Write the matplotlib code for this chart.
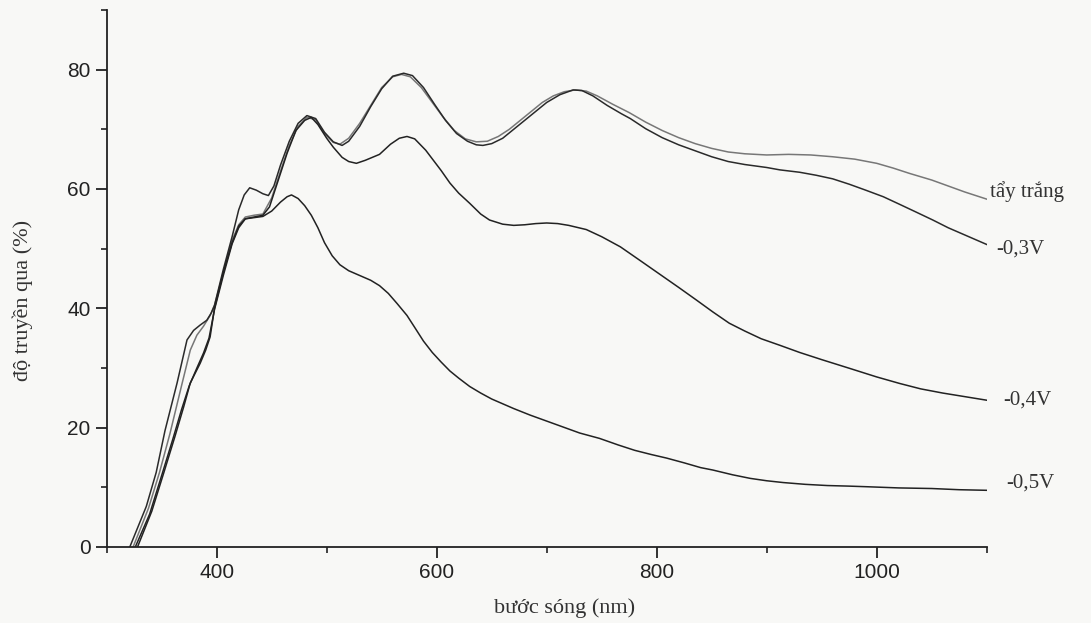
import matplotlib
matplotlib.use("Agg")
import matplotlib.pyplot as plt
from matplotlib.ticker import MultipleLocator

# Values
wl_bleached = [324, 338, 348, 357.5, 368, 376, 382, 388, 394, 398, 406, 414, 420, 426, 434, 442,
               450, 458, 466, 474, 482, 490, 498, 506, 512, 520, 530, 540, 550, 560, 568, 576,
               586, 596, 606, 616, 626, 636, 646, 656, 666, 676, 686, 696, 706, 716, 726, 736,
               746, 760, 775, 790, 805, 820, 835, 850, 865, 880, 900, 920, 940, 960, 980, 1000,
               1015, 1030, 1050, 1065, 1080, 1100]
t_bleached = [0, 6.5, 12.5, 19, 27, 33, 35.5, 37, 38.8, 40.5, 46, 51.4, 54, 55.3, 55.6, 55.8,
              58.5, 63, 67.3, 70.5, 72, 71.6, 69.3, 67.8, 67.5, 68.5, 71, 74, 77, 78.8, 79.2, 78.8,
              77, 74.5, 72, 69.8, 68.4, 67.9, 68, 68.8, 70, 71.5, 73, 74.5, 75.6, 76.3, 76.6, 76.4,
              75.6, 74.2, 72.8, 71.2, 69.8, 68.6, 67.6, 66.8, 66.2, 65.9, 65.7, 65.8, 65.7, 65.4, 65, 64.3,
              63.5, 62.6, 61.5, 60.5, 59.5, 58.3]

wl_03 = [321, 336, 345, 353, 364, 373, 379, 385, 391, 395, 398, 406, 414, 420, 425, 430, 436,
         442, 447, 452, 458, 466, 474, 482, 490, 498, 506, 514, 520, 530, 540, 550, 560, 570,
         578, 588, 598, 608, 618, 628, 636, 642, 650, 660, 670, 680, 690, 700, 712, 724, 732,
         742, 755, 768, 776, 790, 805, 820, 835, 850, 865, 880, 900, 912, 930, 945, 960, 975,
         990, 1006, 1020, 1035, 1051, 1065, 1080, 1100]
t_03 = [0, 6.8, 12.5, 19.5, 27.5, 34.7, 36.3, 37.2, 38, 39.2, 40.5, 46.5, 52, 56.5, 59, 60.2, 59.8,
        59.2, 58.9, 60.5, 64, 68, 71, 72.3, 71.8, 69.5, 67.9, 67.3, 68, 70.5, 73.8, 76.8, 78.9, 79.4,
        79, 77, 74.2, 71.5, 69.3, 68, 67.4, 67.3, 67.6, 68.5, 70, 71.5, 73, 74.5, 75.8, 76.6, 76.5,
        75.6, 74, 72.6, 71.8, 70.1, 68.6, 67.4, 66.4, 65.4, 64.6, 64.1, 63.6, 63.2, 62.8, 62.3, 61.7, 60.8,
        59.8, 58.7, 57.5, 56.2, 54.8, 53.5, 52.3, 50.7]

wl_04 = [328, 341, 352, 362, 370, 376, 385, 390, 394, 398, 406, 414, 420, 426, 434, 442, 448,
         456, 464, 472, 480, 486, 492, 500, 506, 514, 520, 527, 535, 548, 558, 566, 573, 580,
         590, 597, 604, 612, 620, 630, 640, 648, 660, 670, 680, 690, 700, 710, 720, 736, 750,
         767, 785, 806, 820, 836, 851, 866, 880, 895, 912, 930, 950, 976, 1000, 1021, 1040,
         1060, 1080, 1100]
t_04 = [0, 6, 12.5, 18.5, 23.5, 27.5, 30.8, 33, 35.2, 40, 46, 51, 53.8, 55, 55.3, 55.6, 57,
        61.5, 66, 69.8, 71.5, 72, 70.8, 68.5, 67, 65.3, 64.6, 64.3, 64.8, 65.8, 67.5, 68.5, 68.8, 68.4,
        66.5, 64.8, 63.1, 61, 59.3, 57.6, 55.8, 54.8, 54.1, 53.9, 54, 54.2, 54.3, 54.2, 53.9, 53.2, 52,
        50.3, 48, 45.3, 43.5, 41.4, 39.4, 37.5, 36.2, 34.9, 33.8, 32.6, 31.4, 29.9, 28.5, 27.4, 26.5,
        25.8, 25.2, 24.6]

wl_05 = [326, 339, 350, 360, 368, 375, 382, 388, 393, 398, 406, 414, 420, 426, 434, 442, 450,
         458, 464, 468, 474, 480, 486, 492, 498, 505, 512, 520, 530, 540, 548, 556, 564, 573,
         580, 588, 596, 604, 612, 620, 630, 640, 650, 660, 670, 685, 700, 715, 730, 748, 765,
         780, 795, 809, 825, 840, 851, 869, 885, 900, 915, 935, 955, 975, 991, 1020, 1050,
         1075, 1100]
t_05 = [0, 5.5, 12, 18, 23, 27, 30, 32.5, 35, 39.8, 45.5, 50.8, 53.5, 55, 55.2, 55.4, 56.3,
        57.8, 58.7, 59, 58.4, 57.2, 55.6, 53.5, 51, 48.8, 47.3, 46.3, 45.5, 44.7, 43.8, 42.5, 40.8, 38.8,
        36.8, 34.5, 32.6, 31, 29.5, 28.3, 26.9, 25.8, 24.8, 24, 23.2, 22.1, 21.1, 20.1, 19.1, 18.2, 17.1,
        16.2, 15.5, 14.9, 14.1, 13.3, 12.9, 12.1, 11.5, 11.1, 10.8, 10.5, 10.3, 10.2, 10.1, 9.9, 9.8,
        9.6, 9.5]

curve_labels = ["tẩy trắng", "-0,3V", "-0,4V", "-0,5V"]
label_y = [59.5, 50.0, 24.6, 10.7]

fig = plt.figure(figsize=(10.91, 6.23), dpi=100, facecolor="#f8f8f6")
ax = fig.add_axes([0.0978, 0.122, 0.8066, 0.862])
ax.set_facecolor("#f8f8f6")

ax.plot(wl_bleached, t_bleached, color="#777777", lw=1.1)
ax.plot(wl_03, t_03, color="#2a2a2a", lw=1.1)
ax.plot(wl_04, t_04, color="#222222", lw=1.1)
ax.plot(wl_05, t_05, color="#222222", lw=1.1)

# Curve names written just past the right end of each curve
label_x = [1103, 1109, 1115, 1118]
for x, y, s in zip(label_x, label_y, curve_labels):
    ax.text(x, y, s, ha="left", va="center", fontsize=15, family="Liberation Serif",
            color="#333333", clip_on=False)

ax.set_xlim(300, 1100)
ax.set_ylim(0, 90)
ax.xaxis.set_major_locator(MultipleLocator(200))
ax.xaxis.set_minor_locator(MultipleLocator(100))
ax.yaxis.set_major_locator(MultipleLocator(20))
ax.yaxis.set_minor_locator(MultipleLocator(10))
ax.set_xticks([400, 600, 800, 1000])

for side in ["top", "right"]:
    ax.spines[side].set_visible(False)
for side in ["left", "bottom"]:
    ax.spines[side].set_linewidth(1.3)
    ax.spines[side].set_color("#222222")

ax.tick_params(which="major", direction="out", length=8, width=1.3, color="#222222",
               labelsize=15, labelcolor="#222222")
ax.tick_params(which="minor", direction="out", length=4.5, width=1.2, color="#222222")
for lab in ax.get_xticklabels() + ax.get_yticklabels():
    lab.set_family("Liberation Sans")

ax.set_xlabel("bước sóng (nm)", fontsize=16, family="Liberation Serif", color="#333333")
ax.set_ylabel("độ truyền qua (%)", fontsize=16, family="Liberation Serif", color="#333333")
ax.xaxis.set_label_coords(0.52, -0.095)
ax.yaxis.set_label_coords(-0.084, 0.46)

fig.savefig("out.png", dpi=100, facecolor=fig.get_facecolor())
